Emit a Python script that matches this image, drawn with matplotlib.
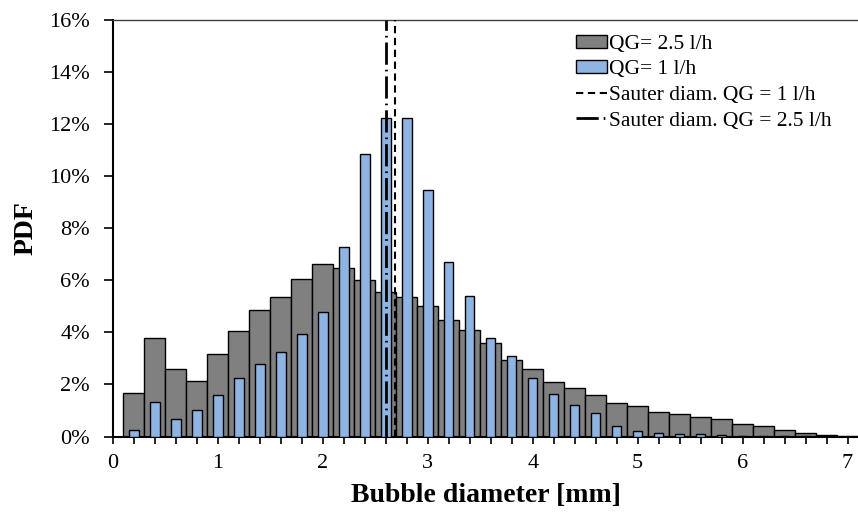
import numpy as np
import matplotlib
matplotlib.use("Agg")
import matplotlib.pyplot as plt
from matplotlib.ticker import MultipleLocator, FuncFormatter
from matplotlib.patches import Patch
from matplotlib.lines import Line2D

plt.rcParams['font.family'] = ['Liberation Serif', 'DejaVu Serif']

# bin centres [mm]
diameters = [0.2, 0.4, 0.6, 0.8, 1.0, 1.2, 1.4, 1.6, 1.8, 2.0,
             2.2, 2.4, 2.6, 2.8, 3.0, 3.2, 3.4, 3.6, 3.8, 4.0,
             4.2, 4.4, 4.6, 4.8, 5.0, 5.2, 5.4, 5.6, 5.8, 6.0,
             6.2, 6.4, 6.6, 6.8, 7.0]

# PDF in %
pdf_qg25 = [1.67, 3.78, 2.59, 2.13, 3.19, 4.04, 4.88, 5.35, 6.07, 6.64,
            6.47, 6.00, 5.55, 5.36, 5.03, 4.49, 4.08, 3.59, 2.96, 2.58,
            2.09, 1.86, 1.58, 1.27, 1.17, 0.93, 0.85, 0.76, 0.67, 0.49,
            0.41, 0.27, 0.12, 0.06, 0.02]
pdf_qg1 = [0.26, 1.32, 0.67, 1.03, 1.59, 2.24, 2.77, 3.26, 3.95, 4.78,
           7.28, 10.85, 12.22, 12.22, 9.46, 6.70, 5.38, 3.78, 3.09, 2.26,
           1.64, 1.23, 0.91, 0.42, 0.22, 0.15, 0.11, 0.08, 0.06, 0.04,
           0.03, 0.01, 0.01, 0.0, 0.0]

sauter_qg1 = 2.69
sauter_qg25 = 2.60

GRAY = '#808080'
BLUE = '#8DB4E2'
DASH = (0, (3.5, 2.2))
DASHDOT = (0, (8, 1.8, 0.6, 1.8))

fig = plt.figure(figsize=(8.58, 5.13), dpi=100)
ax = fig.add_axes([0.1317, 0.149, 0.8683, 0.812])

x = np.array(diameters)
ax.bar(x, np.array(pdf_qg25) / 100, width=0.2, color=GRAY, edgecolor='black', linewidth=1.0, zorder=2)
ax.bar(x, np.array(pdf_qg1) / 100, width=0.09, color=BLUE, edgecolor='black', linewidth=1.0, zorder=3)

ax.plot([sauter_qg1, sauter_qg1], [0, 0.16], color='black', lw=1.5, linestyle=DASH, zorder=4)
ax.plot([sauter_qg25, sauter_qg25], [0, 0.16], color='black', lw=2.0, linestyle=DASHDOT, zorder=4)

ax.set_xlim(0, 7.1)
ax.set_ylim(0, 0.16)
ax.xaxis.set_major_locator(MultipleLocator(1))
ax.xaxis.set_minor_locator(MultipleLocator(0.2))
ax.yaxis.set_major_locator(MultipleLocator(0.02))
ax.yaxis.set_major_formatter(FuncFormatter(lambda v, p: f'{v * 100:.0f}%'))
ax.tick_params(axis='both', which='both', direction='out', width=1.2, labelsize=16)
ax.tick_params(axis='x', which='both', length=5, pad=7.5)
ax.tick_params(axis='y', which='both', length=6.5, pad=10)

ax.spines['right'].set_visible(False)
ax.spines['left'].set_linewidth(1.5)
ax.spines['bottom'].set_linewidth(1.5)
ax.spines['top'].set_linewidth(1.0)
ax.spines['top'].set_color('#404040')

ax.set_xlabel('Bubble diameter [mm]', fontsize=20, fontweight='bold', labelpad=7)
ax.set_ylabel('PDF', fontsize=20, fontweight='bold', labelpad=7.5)

handles = [
    Patch(facecolor=GRAY, edgecolor='black', linewidth=1.0),
    Patch(facecolor=BLUE, edgecolor='black', linewidth=1.0),
    Line2D([], [], color='black', lw=1.5, linestyle=DASH),
    Line2D([], [], color='black', lw=2.0, linestyle=DASHDOT),
]
labels = ['QG= 2.5 l/h', 'QG= 1 l/h', 'Sauter diam. QG = 1 l/h', 'Sauter diam. QG = 2.5 l/h']
ax.legend(handles, labels, loc='upper left', bbox_to_anchor=(0.616, 0.975), frameon=False,
          fontsize=15.5, handlelength=1.45, handleheight=0.55, handletextpad=0.05,
          labelspacing=0.3, borderaxespad=0.0, borderpad=0.2)

fig.savefig('out.png', dpi=100)
